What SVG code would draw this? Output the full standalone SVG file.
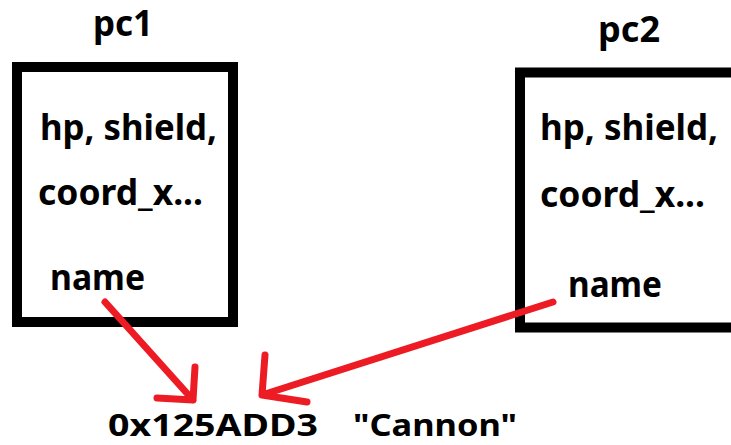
<svg xmlns="http://www.w3.org/2000/svg" width="731" height="445" viewBox="0 0 731 445">
<style>
.box{fill:none;stroke:#000;stroke-width:10}
.t{font-family:"Noto Sans","Open Sans","DejaVu Sans",sans-serif;font-weight:bold;font-size:35px;fill:#000}
.m{font-size:31px}
.arr{fill:none;stroke:#ed1c24;stroke-width:7;stroke-linecap:round;stroke-linejoin:round}
</style>
<rect width="731" height="445" fill="#fff"/>
<g id="pc1">
<text class="t" x="93" y="36" textLength="60" lengthAdjust="spacingAndGlyphs">pc1</text>
<rect class="box" x="17" y="67" width="216" height="255"/>
<text class="t" x="40" y="140" textLength="177" lengthAdjust="spacingAndGlyphs">hp, shield,</text>
<text class="t" x="38" y="205" textLength="165" lengthAdjust="spacingAndGlyphs">coord_x...</text>
<text class="t" x="50" y="290" textLength="95" lengthAdjust="spacingAndGlyphs">name</text>
</g>
<g id="pc2">
<text class="t" x="598" y="42" textLength="62" lengthAdjust="spacingAndGlyphs">pc2</text>
<rect class="box" x="520" y="72.5" width="230" height="255"/>
<text class="t" x="540" y="140" textLength="178" lengthAdjust="spacingAndGlyphs">hp, shield,</text>
<text class="t" x="540" y="207" textLength="165" lengthAdjust="spacingAndGlyphs">coord_x...</text>
<text class="t" x="568" y="297" textLength="94" lengthAdjust="spacingAndGlyphs">name</text>
</g>
<g id="memory">
<text class="t m" x="108" y="436" textLength="210" lengthAdjust="spacingAndGlyphs">0x125ADD3</text>
<text class="t m" x="353" y="436" textLength="164" lengthAdjust="spacingAndGlyphs">"Cannon"</text>
</g>
<g id="connectors">
<path class="arr" d="M105,302 L193,400 M195,367 L193,400 L157,398"/>
<path class="arr" d="M553,302 L262,395 M265,355 L262,395 L307,402"/>
</g>
</svg>
